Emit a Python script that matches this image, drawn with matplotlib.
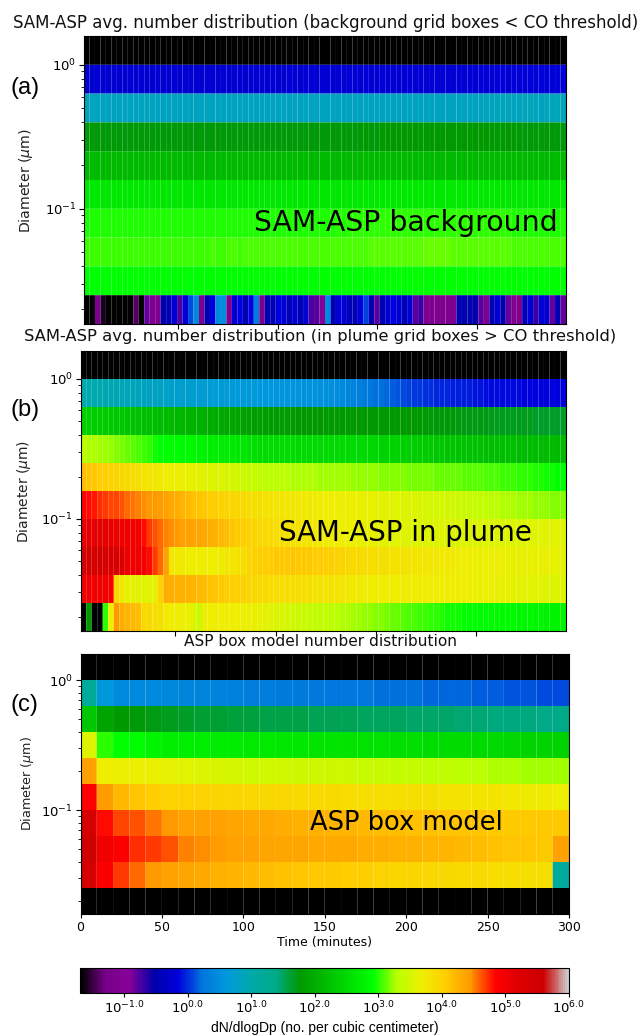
import numpy as np
import matplotlib
matplotlib.use('Agg')
import matplotlib.pyplot as plt
from matplotlib.colors import LogNorm
from matplotlib.cm import ScalarMappable

# all values are log10(dN/dlogDp), rows go from largest diameter to smallest
BLACK = -3.0

bgRow1 = [-.24,-.24,-.23,-.24,-.24,-.23,-.24,-.23,-.24,-.24,-.23,-.24,-.24,-.23,-.23,-.24,-.24,-.23,-.24,-.24,-.23,-.23,
          -.24,-.23,-.23,-.24,-.23,-.23,-.24,-.23,-.23,-.22,-.23,-.23,-.22,-.23,-.23,-.22,-.22,-.23,-.22,-.22,-.23,-.22,
          -.22,-.22,-.21,-.22,-.22,-.21,-.22,-.21,-.21,-.22,-.21,-.21,-.21,-.22,-.21,-.21,-.21,-.21,-.20,-.21,-.21,-.20,
          -.20,-.21,-.20,-.20,-.20,-.20,-.19,-.20,-.20,-.19,-.19,-.20,-.19,-.19,-.18,-.19,-.18,-.18,-.17,-.18,-.17,-.17]
bgRow2 = [.84,.84,.83,.84,.84,.84,.83,.84,.84,.84,.84,.83,.84,.84,.84,.83,.84,.84,.84,.84,.83,.84,
          .84,.84,.83,.84,.84,.84,.83,.84,.84,.84,.84,.83,.84,.84,.84,.84,.83,.84,.84,.84,.84,.83,
          .84,.84,.84,.83,.84,.84,.84,.84,.83,.84,.84,.85,.84,.85,.85,.84,.85,.85,.85,.84,.85,.85,
          .85,.85,.84,.85,.85,.85,.85,.86,.85,.86,.86,.86,.85,.86,.86,.86,.86,.85,.86,.86,.86,.86]
bgRow3 = [1.74,1.74,1.74,1.75,1.74,1.74,1.74,1.75,1.74,1.74,1.74,1.75,1.74,1.74,1.74,1.75,1.74,1.74,1.74,1.75,1.74,1.74,
          1.74,1.75,1.74,1.74,1.74,1.75,1.74,1.74,1.74,1.75,1.74,1.74,1.74,1.75,1.74,1.74,1.74,1.75,1.74,1.74,1.74,1.75,
          1.74,1.74,1.75,1.75,1.75,1.75,1.75,1.76,1.75,1.75,1.76,1.76,1.76,1.76,1.76,1.76,1.76,1.76,1.77,1.76,1.76,1.77,
          1.77,1.77,1.76,1.76,1.76,1.76,1.76,1.76,1.76,1.75,1.76,1.76,1.76,1.75,1.75,1.75,1.75,1.75,1.75,1.75,1.75,1.75]
bgRow4 = [2.12,2.12,2.13,2.12,2.12,2.12,2.13,2.12,2.12,2.12,2.13,2.12,2.12,2.12,2.13,2.12,2.12,2.12,2.13,2.12,2.12,2.12,
          2.13,2.12,2.12,2.12,2.13,2.12,2.12,2.12,2.13,2.12,2.12,2.12,2.13,2.12,2.12,2.12,2.13,2.12,2.12,2.12,2.13,2.12,
          2.12,2.12,2.13,2.12,2.12,2.12,2.13,2.12,2.12,2.12,2.13,2.12,2.12,2.12,2.13,2.12,2.12,2.12,2.13,2.12,2.12,2.12,
          2.13,2.12,2.12,2.12,2.13,2.12,2.12,2.12,2.13,2.12,2.12,2.12,2.13,2.12,2.12,2.12,2.13,2.12,2.12,2.12,2.13,2.12]
bgRow5 = [2.65,2.65,2.66,2.65,2.65,2.65,2.66,2.65,2.65,2.65,2.66,2.65,2.65,2.65,2.66,2.65,2.65,2.65,2.66,2.65,2.65,2.65,
          2.66,2.65,2.65,2.65,2.66,2.65,2.65,2.65,2.66,2.65,2.65,2.65,2.66,2.65,2.65,2.65,2.66,2.65,2.65,2.65,2.66,2.65,
          2.66,2.66,2.66,2.66,2.66,2.66,2.67,2.66,2.66,2.67,2.67,2.67,2.67,2.67,2.68,2.67,2.68,2.68,2.68,2.68,2.68,2.68,
          2.68,2.68,2.67,2.67,2.67,2.67,2.67,2.67,2.67,2.67,2.66,2.66,2.66,2.66,2.66,2.66,2.66,2.66,2.66,2.66,2.66,2.66]
bgRow6 = [2.98,2.98,2.98,2.99,2.98,2.98,2.98,2.99,2.98,2.98,2.98,2.99,2.98,2.98,2.98,2.99,2.98,2.98,2.98,2.99,2.98,2.98,
          2.98,2.99,2.98,2.98,2.98,2.99,2.98,2.98,2.98,2.99,2.98,2.98,2.98,2.99,2.98,2.98,2.98,2.99,2.98,2.98,2.98,2.99,
          2.99,2.99,3.00,2.99,3.00,3.00,3.00,3.00,3.01,3.01,3.01,3.01,3.01,3.02,3.02,3.02,3.02,3.02,3.02,3.02,3.02,3.02,
          3.02,3.02,3.01,3.01,3.01,3.01,3.01,3.00,3.00,3.00,3.00,3.00,2.99,2.99,2.99,2.99,2.99,2.99,2.99,2.99,2.99,2.99]
bgRow7 = [3.04,3.04,3.04,3.05,3.04,3.04,3.04,3.05,3.04,3.04,3.05,3.05,3.04,3.05,3.05,3.05,3.05,3.05,3.05,3.05,3.05,3.05,
          3.05,3.06,3.05,3.05,3.06,3.06,3.05,3.06,3.06,3.06,3.06,3.06,3.06,3.06,3.06,3.06,3.06,3.07,3.06,3.07,3.07,3.07,
          3.07,3.07,3.07,3.08,3.08,3.08,3.08,3.08,3.09,3.09,3.09,3.10,3.10,3.10,3.11,3.11,3.11,3.11,3.12,3.12,3.12,3.12,
          3.12,3.11,3.11,3.11,3.10,3.10,3.10,3.10,3.09,3.09,3.09,3.09,3.08,3.08,3.08,3.08,3.08,3.07,3.07,3.07,3.07,3.07]
bgRow8 = [2.92,2.92,2.92,2.91,2.92,2.92,2.92,2.91,2.92,2.92,2.92,2.91,2.92,2.92,2.92,2.91,2.92,2.92,2.92,2.91,2.92,2.92,
          2.92,2.91,2.92,2.92,2.92,2.91,2.92,2.92,2.92,2.91,2.92,2.92,2.92,2.91,2.92,2.92,2.92,2.91,2.92,2.92,2.92,2.91,
          2.92,2.92,2.92,2.92,2.92,2.92,2.92,2.93,2.92,2.93,2.93,2.93,2.93,2.93,2.93,2.93,2.93,2.93,2.93,2.93,2.93,2.93,
          2.93,2.93,2.93,2.92,2.92,2.92,2.92,2.92,2.92,2.92,2.92,2.92,2.92,2.92,2.91,2.91,2.91,2.91,2.91,2.91,2.91,2.91]
bgRow9 = [-2.5,-1.7,-1.16,-1.6,-2.5,-2.5,-2.5,-2.5,-2.5,-1.42,-2.5,-.8,-1.16,-1.16,-.5,-.45,-.2,-.75,-.2,.08,.46,
          -1.16,-.45,-.15,.46,.48,-1.16,-.2,-.15,-.45,-.15,.3,-1.16,-.45,-.45,-.15,-.18,-.45,-.2,-.45,-.2,-.75,-.78,
          -.95,.46,-.45,-.2,-.2,-.42,-.45,-.15,.05,-.45,-.78,-.45,-.2,-.15,-.2,-.45,-.2,-.78,-.7,-1.16,-1.14,-1.12,-1.14,-1.16,
          -1.12,-.45,-.5,-.5,-.5,-.78,-1.16,-.45,-.25,-.5,-.8,-1.1,-1.16,-.42,-.2,-.7,-.2,-.25,-.8,-.45,-.8]
bgMatrix = [[BLACK] * 88, bgRow1, bgRow2, bgRow3, bgRow4, bgRow5, bgRow6, bgRow7, bgRow8, bgRow9]

plumeRow1 = [.96,.96,.95,.95,.94,.93,.92,.90,.90,.88,.86,.85,.84,.82,.80,.78,.76,.75,.74,.72,.72,.70,
             .70,.68,.68,.66,.65,.65,.64,.63,.62,.62,.60,.60,.60,.58,.58,.57,.57,.56,.55,.54,.54,.53,
             .52,.50,.47,.44,.40,.36,.33,.28,.24,.22,.20,.17,.14,.11,.08,.05,.03,.02,.00,-.01,-.02,-.03,
             -.04,-.05,-.05,-.06,-.07,-.08,-.09,-.12,-.11,-.11,-.12,-.12,-.13,-.13,-.14,-.14,-.15,-.15,-.15,-.16,-.16,-.16]
plumeRow2 = [2.38,2.37,2.36,2.35,2.34,2.32,2.30,2.28,2.26,2.24,2.22,2.21,2.20,2.18,2.16,2.15,2.13,2.11,2.09,2.07,2.05,2.03,
             2.01,1.99,1.97,1.95,1.93,1.91,1.89,1.87,1.85,1.84,1.83,1.82,1.81,1.80,1.80,1.79,1.79,1.78,1.78,1.77,1.77,1.77,
             1.77,1.77,1.77,1.77,1.77,1.77,1.77,1.77,1.77,1.77,1.77,1.77,1.77,1.77,1.77,1.77,1.76,1.76,1.75,1.75,1.74,1.74,
             1.73,1.73,1.72,1.72,1.71,1.71,1.70,1.70,1.69,1.69,1.68,1.68,1.68,1.67,1.67,1.67,1.66,1.66,1.66,1.65,1.65,1.65]
plumeRow3 = [3.30,3.29,3.28,3.26,3.25,3.23,3.20,3.17,3.14,3.11,3.07,3.04,3.00,2.96,2.92,2.91,2.90,2.88,2.87,2.85,2.83,2.81,
             2.77,2.75,2.74,2.72,2.70,2.68,2.66,2.64,2.60,2.57,2.53,2.53,2.53,2.52,2.52,2.52,2.52,2.51,2.51,2.51,2.51,2.51,
             2.50,2.50,2.50,2.50,2.50,2.50,2.50,2.49,2.47,2.46,2.44,2.43,2.42,2.40,2.38,2.37,2.35,2.34,2.33,2.31,2.30,2.29,
             2.27,2.26,2.25,2.24,2.23,2.22,2.22,2.21,2.21,2.20,2.20,2.19,2.19,2.18,2.18,2.17,2.17,2.17,2.16,2.16,2.15,2.15]
plumeRow4 = [4.15,4.13,4.10,4.07,4.04,4.01,3.98,3.95,3.92,3.89,3.86,3.83,3.80,3.76,3.72,3.69,3.68,3.66,3.65,3.63,3.62,3.60,
             3.58,3.56,3.55,3.54,3.52,3.50,3.47,3.43,3.40,3.37,3.34,3.33,3.32,3.31,3.30,3.30,3.29,3.28,3.28,3.27,3.27,3.26,
             3.26,3.25,3.25,3.24,3.24,3.23,3.23,3.22,3.22,3.21,3.20,3.20,3.19,3.18,3.18,3.17,3.17,3.16,3.16,3.15,3.14,3.14,
             3.13,3.12,3.12,3.11,3.11,3.10,3.09,3.08,3.07,3.06,3.05,3.04,3.03,3.02,3.01,3.00,2.99,2.98,2.96,2.95,2.93,2.92]
plumeRow5 = [4.85,4.82,4.77,4.73,4.70,4.67,4.65,4.62,4.58,4.54,4.52,4.49,4.46,4.44,4.42,4.38,4.34,4.30,4.25,4.20,4.15,4.12,
             4.09,4.06,4.03,4.01,3.98,3.96,3.93,3.91,3.88,3.86,3.84,3.83,3.81,3.80,3.78,3.77,3.76,3.75,3.74,3.73,3.72,3.71,
             3.70,3.69,3.68,3.67,3.66,3.66,3.65,3.64,3.63,3.62,3.61,3.60,3.59,3.58,3.56,3.55,3.54,3.53,3.52,3.50,3.49,3.48,
             3.47,3.45,3.44,3.42,3.40,3.38,3.36,3.34,3.32,3.30,3.29,3.28,3.27,3.26,3.25,3.24,3.23,3.22,3.21,3.20,3.20,3.19]
plumeRow6 = [5.15,5.15,5.15,5.14,5.14,5.12,5.05,5.02,5.00,5.00,4.95,4.80,4.68,4.62,4.58,4.52,4.48,4.45,4.38,4.38,4.37,4.37,
             4.34,4.30,4.26,4.21,4.17,4.13,4.09,4.05,4.01,3.97,3.94,3.92,3.90,3.88,3.86,3.85,3.83,3.82,3.80,3.78,3.76,3.74,
             3.72,3.70,3.69,3.68,3.67,3.66,3.65,3.64,3.63,3.62,3.61,3.60,3.59,3.58,3.57,3.56,3.55,3.54,3.54,3.54,3.54,3.54,
             3.54,3.54,3.54,3.54,3.54,3.54,3.54,3.54,3.55,3.55,3.55,3.55,3.56,3.56,3.56,3.57,3.57,3.57,3.57,3.58,3.58,3.58]
plumeRow7 = [5.40,5.40,5.40,5.40,5.38,5.36,5.32,5.25,5.05,5.00,5.00,4.98,4.80,4.68,4.58,4.38,3.75,3.73,3.72,3.71,3.70,3.69,
             3.69,3.69,3.70,3.72,3.75,3.78,3.82,3.88,3.95,4.00,4.04,4.06,4.07,4.08,4.09,4.10,4.11,4.10,4.09,4.08,4.07,4.06,
             4.05,4.03,4.01,3.98,3.95,3.92,3.90,3.88,3.87,3.86,3.85,3.84,3.83,3.82,3.81,3.80,3.79,3.78,3.77,3.76,3.75,3.74,
             3.73,3.72,3.71,3.70,3.69,3.68,3.68,3.67,3.67,3.66,3.66,3.65,3.65,3.65,3.64,3.64,3.64,3.63,3.63,3.63,3.62,3.62]
plumeRow8 = [5.02,5.02,5.00,5.00,4.98,4.95,3.95,3.75,3.62,3.60,3.60,3.58,3.58,3.65,4.00,4.30,4.30,4.28,4.28,4.26,4.24,4.20,
             4.17,4.14,4.12,4.10,4.07,4.04,4.02,4.00,3.98,3.94,3.92,3.90,3.89,3.88,3.87,3.86,3.85,3.85,3.84,3.84,3.83,3.83,
             3.82,3.81,3.80,3.78,3.76,3.74,3.72,3.70,3.70,3.69,3.69,3.69,3.69,3.69,3.69,3.69,3.69,3.69,3.69,3.69,3.69,3.69,
             3.69,3.69,3.69,3.69,3.69,3.68,3.68,3.67,3.66,3.65,3.64,3.63,3.62,3.61,3.60,3.59,3.58,3.57,3.56,3.56,3.55,3.55]
plumeRow9 = [BLACK,1.77,BLACK,BLACK,3.00,3.70,4.45,4.30,4.25,4.22,4.18,3.92,3.90,3.88,3.86,3.72,3.70,3.70,3.68,3.66,3.55,3.42,
             3.68,3.70,3.70,3.70,3.70,3.69,3.69,3.68,3.67,3.65,3.63,3.61,3.58,3.55,3.52,3.50,3.47,3.44,3.40,3.38,3.36,3.34,
             3.33,3.32,3.30,3.29,3.27,3.26,3.25,3.23,3.22,3.20,3.18,3.16,3.14,3.12,3.10,3.08,3.07,3.05,3.03,3.01,3.00,2.98,
             2.96,2.95,2.94,2.93,2.92,2.91,2.90,2.89,2.88,2.87,2.86,2.86,2.85,2.84,2.83,2.83,2.82,2.82,2.81,2.81,2.80,2.80]
plumeMatrix = [[BLACK] * 88, plumeRow1, plumeRow2, plumeRow3, plumeRow4, plumeRow5, plumeRow6, plumeRow7, plumeRow8, plumeRow9]

boxRow1 = [1.19,.61,.46,.46,.45,.42,.40,.38,.36,.33,.30,.29,.28,.27,.26,.25,.24,.23,.22,.21,.20,.19,.18,.17,.16,.15,.13,.11,.10,.10]
boxRow2 = [2.30,1.88,1.76,1.75,1.72,1.68,1.65,1.63,1.61,1.60,1.58,1.57,1.56,1.55,1.54,1.53,1.52,1.51,1.50,1.49,1.48,1.47,1.46,1.45,1.44,1.42,1.41,1.40,1.39,1.38]
boxRow3 = [3.54,3.00,2.92,2.88,2.80,2.75,2.74,2.73,2.71,2.70,2.68,2.67,2.66,2.65,2.63,2.62,2.61,2.59,2.58,2.56,2.55,2.54,2.53,2.52,2.50,2.49,2.47,2.45,2.44,2.42]
boxRow4 = [4.38,3.70,3.68,3.66,3.63,3.60,3.58,3.56,3.53,3.50,3.47,3.46,3.45,3.44,3.44,3.43,3.42,3.41,3.39,3.38,3.36,3.34,3.33,3.31,3.30,3.28,3.27,3.26,3.25,3.25]
boxRow5 = [4.85,4.42,4.20,4.12,4.06,4.00,4.00,3.99,3.98,3.96,3.95,3.94,3.93,3.92,3.91,3.90,3.89,3.88,3.87,3.86,3.85,3.84,3.83,3.82,3.80,3.78,3.76,3.74,3.72,3.70]
boxRow6 = [5.40,4.80,4.66,4.62,4.55,4.45,4.38,4.38,4.38,4.36,4.33,4.32,4.30,4.28,4.26,4.25,4.23,4.21,4.19,4.17,4.15,4.14,4.13,4.12,4.11,4.10,4.10,4.09,4.08,4.08]
boxRow7 = [5.55,5.00,4.88,4.72,4.68,4.62,4.52,4.48,4.42,4.40,4.38,4.37,4.36,4.35,4.34,4.33,4.32,4.31,4.29,4.28,4.27,4.25,4.23,4.21,4.19,4.15,4.13,4.12,4.10,4.38]
boxRow8 = [5.40,4.88,4.68,4.57,4.45,4.40,4.35,4.32,4.28,4.25,4.22,4.19,4.15,4.13,4.10,4.08,4.05,4.03,4.00,3.98,3.96,3.95,3.93,3.92,3.90,3.89,3.88,3.86,3.85,1.15]
boxMatrix = [[BLACK] * 30, boxRow1, boxRow2, boxRow3, boxRow4, boxRow5, boxRow6, boxRow7, boxRow8, [BLACK] * 30]

diamEdges = 10.0 ** np.arange(0.2, -1.81, -0.2)
samTime = 2.75 * np.arange(1, 90)
boxTime = 10.0 * np.arange(0, 31)
cbarTicks = [-1, 0, 1, 2, 3, 4, 5, 6]

panelTitles = ['SAM-ASP avg. number distribution (background grid boxes < CO threshold)',
               'SAM-ASP avg. number distribution (in plume grid boxes > CO threshold)',
               'ASP box model number distribution']
panelNotes = ['SAM-ASP background', 'SAM-ASP in plume', 'ASP box model']
panelLetters = ['(a)', '(b)', '(c)']

W, H = 643.0, 1036.0

def pixAxes(fig, left, top, right, bottom):
    return fig.add_axes([left / W, 1 - bottom / H, (right - left) / W, (bottom - top) / H])

fig = plt.figure(figsize=(W / 100, H / 100), dpi=100)
norm = LogNorm(vmin=10 ** -1.7, vmax=1e6)
cmap = plt.get_cmap('nipy_spectral')

boxes = [(84, 36, 566, 324), (80.7, 351, 566, 631), (80.5, 654, 569, 914)]
matrices = [bgMatrix, plumeMatrix, boxMatrix]
times = [samTime, samTime, boxTime]
titlePos = [(326, 23), (320, 336), (321, 642)]
titleSize = [12, 11.8, 11.1]
notePos = [88, 101.5, 141]
noteSize = [20.4, 19.9, 18.5]
letterY = [88, 410, 705]
labelPos = [(26, 180), (24, 491), (27, 784)]
labelSize = [10.2, 10, 9.2]

for i in range(3):
    ax = pixAxes(fig, *boxes[i])
    # antialiased cells leave the faint light seams between them
    ax.pcolor(times[i], diamEdges, 10.0 ** np.array(matrices[i]), cmap=cmap, norm=norm,
              antialiased=True, edgecolors='none', linewidth=0)
    ax.set_yscale('log')
    ax.set_xlim(times[i][0], times[i][-1])
    ax.set_ylim(diamEdges[-1], diamEdges[0])
    ax.set_xticks([50, 100, 150, 200] if i < 2 else [0, 50, 100, 150, 200, 250, 300])
    if i < 2:
        ax.set_xticklabels([])
    else:
        ax.tick_params(axis='x', labelsize=9, pad=2, length=3)
        ax.set_xlabel('Time (minutes)', fontsize=9, labelpad=1.5)
    ax.tick_params(axis='y', which='major', labelsize=9.5, length=3.5, pad=2)
    ax.tick_params(axis='y', which='minor', length=2)
    ax.text(notePos[i], 0.07, panelNotes[i], fontsize=noteSize[i], color='black', va='baseline', ha='left')
    fig.text(titlePos[i][0] / W, 1 - titlePos[i][1] / H, panelTitles[i], fontsize=titleSize[i],
             ha='center', va='center', color='#111111')
    fig.text(11 / W, 1 - letterY[i] / H, panelLetters[i], fontsize=17, family='Liberation Sans',
             ha='left', va='center', color='black')
    fig.text(labelPos[i][0] / W, 1 - labelPos[i][1] / H, 'Diameter ($\\mu$m)', fontsize=labelSize[i],
             rotation=90, ha='center', va='center', color='#222222')

cax = pixAxes(fig, 80, 968, 569, 993)
sm = ScalarMappable(norm=norm, cmap=cmap)
cbar = fig.colorbar(sm, cax=cax, orientation='horizontal')
cbar.set_ticks([10.0 ** t for t in cbarTicks])
cbar.set_ticklabels(['$10^{%.1f}$' % t for t in cbarTicks])
cbar.minorticks_off()
cbar.ax.tick_params(labelsize=9.5, length=3, pad=2)
cbar.set_label('dN/dlogDp (no. per cubic centimeter)', fontsize=10, family='Liberation Sans', labelpad=3)

fig.savefig('out.png', dpi=100)
